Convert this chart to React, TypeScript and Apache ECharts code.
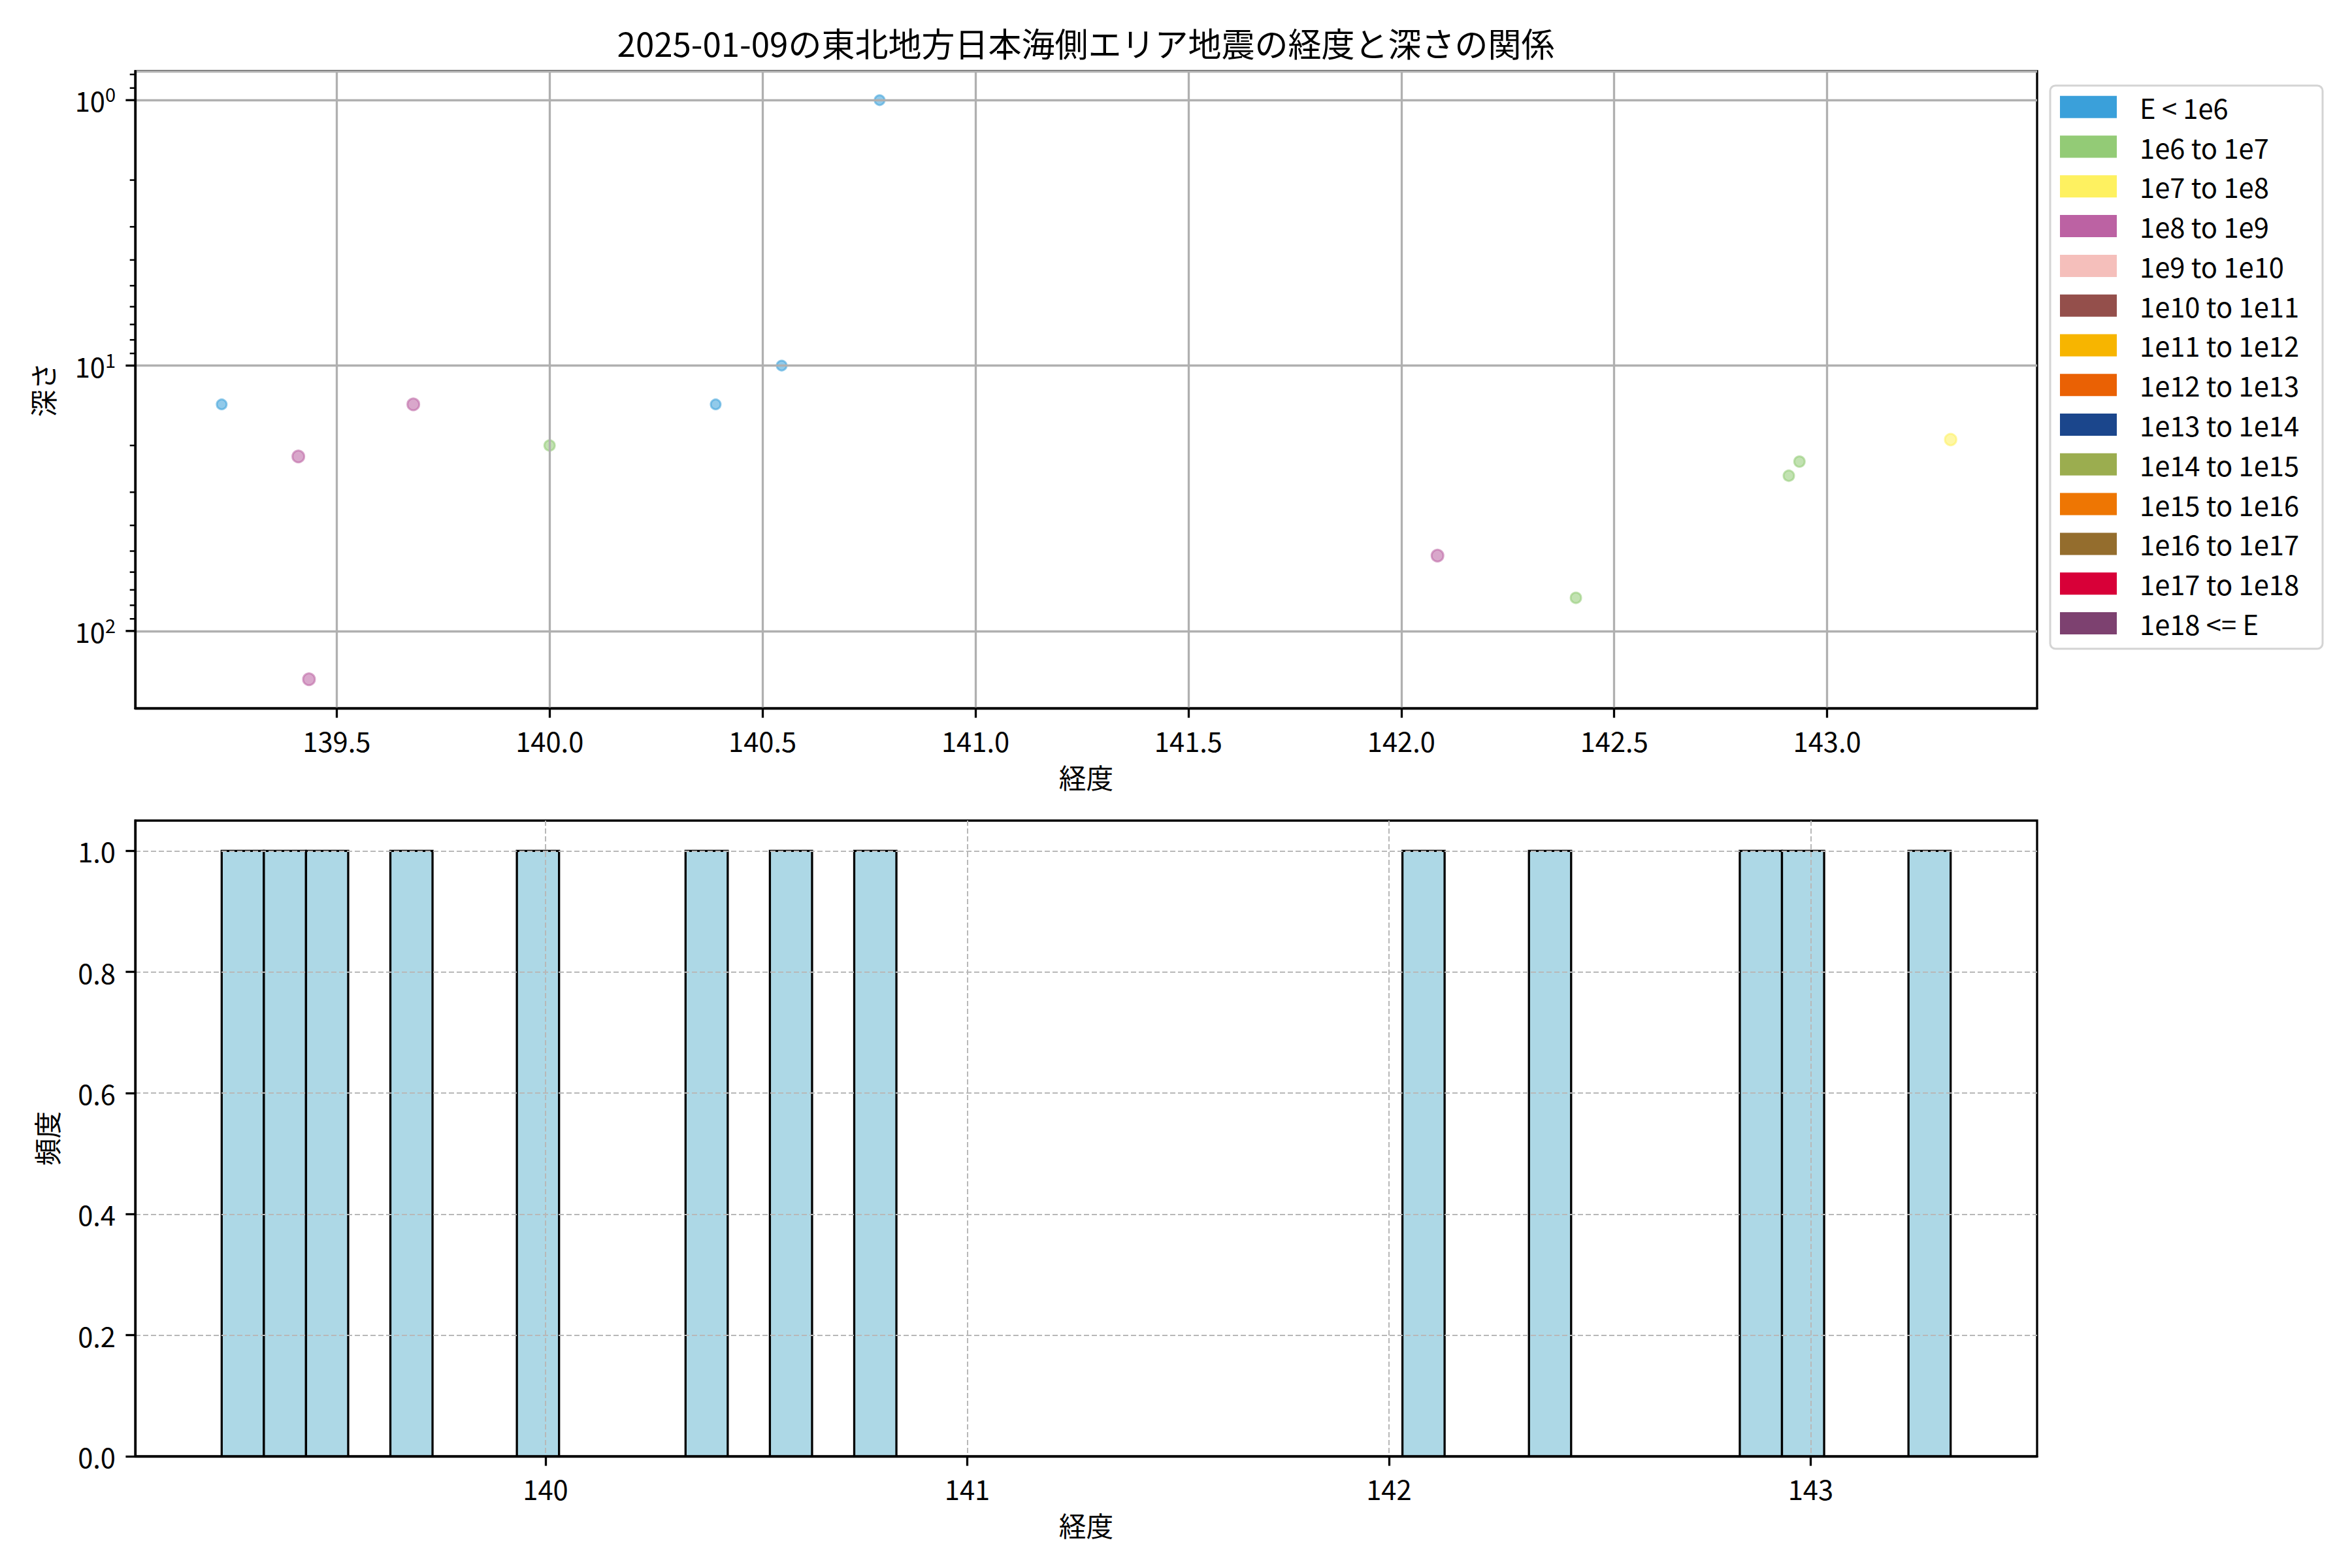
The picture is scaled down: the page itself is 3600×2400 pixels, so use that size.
import React, { useEffect, useRef } from 'react';
import * as echarts from 'echarts';

const TITLE = '2025-01-09の東北地方日本海側エリア地震の経度と深さの関係';
const X_NAME = '経度';
const Y_TOP_NAME = '深さ';
const Y_BOTTOM_NAME = '頻度';

const longitudes = [139.23, 139.41, 139.435, 139.68, 140.0, 140.39, 140.545, 140.775, 142.085, 142.41, 142.91, 142.935, 143.29];
const depths = [14, 22, 152, 14, 20, 14, 10, 1, 52, 75, 26, 23, 19];
const energyClassIndex = [0, 3, 3, 3, 1, 0, 0, 0, 3, 1, 1, 1, 2];

const energyClasses = [
  'E < 1e6', '1e6 to 1e7', '1e7 to 1e8', '1e8 to 1e9', '1e9 to 1e10', '1e10 to 1e11',
  '1e11 to 1e12', '1e12 to 1e13', '1e13 to 1e14', '1e14 to 1e15', '1e15 to 1e16',
  '1e16 to 1e17', '1e17 to 1e18', '1e18 <= E',
];
const classColors = [
  '#3aa0da', '#93cb76', '#fef160', '#bc62a3', '#f5bfbb', '#944f4b', '#f7b500',
  '#ea6104', '#1b468c', '#9bad4f', '#ee7603', '#946d2d', '#d80038', '#7d4170',
];
const classSymbolSize = [15, 16, 17.5, 18, 18, 18, 18, 18, 18, 18, 18, 18, 18, 18];

const topXTicks = [139.5, 140.0, 140.5, 141.0, 141.5, 142.0, 142.5, 143.0];
const bottomXTicks = [140, 141, 142, 143];
const freqTicks = [0, 0.2, 0.4, 0.6, 0.8, 1.0];
const depthMajorTicks = [1, 10, 100];
const depthMinorTicks = [0.8, 0.9, 2, 3, 4, 5, 6, 7, 8, 9, 20, 30, 40, 50, 60, 70, 80, 90];

const histStart = 139.232;
const binWidth = 0.1;

const FONT = "'Noto Sans CJK JP', 'Noto Sans', sans-serif";

function withAlpha(hex: string, a: number) {
  const r = parseInt(hex.slice(1, 3), 16);
  const g = parseInt(hex.slice(3, 5), 16);
  const b = parseInt(hex.slice(5, 7), 16);
  return `rgba(${r},${g},${b},${a})`;
}

export default function App() {
  const ref = useRef<HTMLDivElement>(null);

  useEffect(() => {
    if (!ref.current) return;
    const chart = echarts.init(ref.current, null, { renderer: 'svg' });

    const lonMin = Math.min(...longitudes);
    const lonMax = Math.max(...longitudes);
    const lonSpan = lonMax - lonMin;
    const topXMin = lonMin - 0.05 * lonSpan;
    const topXMax = lonMax + 0.05 * lonSpan;

    const logMin = Math.log10(Math.min(...depths));
    const logMax = Math.log10(Math.max(...depths));
    const logSpan = logMax - logMin;
    const yTopMin = Math.pow(10, logMin - 0.05 * logSpan);
    const yTopMax = Math.pow(10, logMax + 0.05 * logSpan);

    const nBins = Math.floor((lonMax - histStart) / binWidth) + 1;
    const counts = new Array(nBins).fill(0);
    longitudes.forEach((x) => {
      let i = Math.floor((x - histStart) / binWidth);
      if (i >= nBins) i = nBins - 1;
      if (i < 0) i = 0;
      counts[i] += 1;
    });
    const histData: number[][] = [];
    counts.forEach((c, i) => {
      if (c > 0) histData.push([histStart + i * binWidth, histStart + (i + 1) * binWidth, c]);
    });
    const histEnd = histStart + nBins * binWidth;
    const hSpan = histEnd - histStart;
    const botXMin = histStart - 0.05 * hSpan;
    const botXMax = histEnd + 0.05 * hSpan;
    const maxCount = Math.max(...counts);

    const scatterSeries = energyClasses.map((name, ci) => ({
      name,
      type: 'scatter',
      xAxisIndex: 0,
      yAxisIndex: 0,
      symbolSize: classSymbolSize[ci],
      itemStyle: {
        color: withAlpha(classColors[ci], 0.7),
        borderColor: withAlpha(classColors[ci], 0.7),
        borderWidth: 3,
      },
      data: longitudes
        .map((lon, i) => (energyClassIndex[i] === ci ? [lon, depths[i]] : null))
        .filter((d) => d !== null),
      z: 3,
    }));

    const tickData = [
      ...depthMajorTicks.map((v) => [topXMin, v, 1]),
      ...depthMinorTicks.map((v) => [topXMin, v, 0]),
    ];

    const option: any = {
      animation: false,
      backgroundColor: '#ffffff',
      textStyle: { fontFamily: FONT, color: '#000' },
      grid: [
        { left: 207, top: 109, width: 2911, height: 975, show: true, borderColor: '#000', borderWidth: 3.3, backgroundColor: 'transparent', containLabel: false },
        { left: 207, top: 1256, width: 2911, height: 973, show: true, borderColor: '#000', borderWidth: 3.3, backgroundColor: 'transparent', containLabel: false },
      ],
      graphic: [
        {
          type: 'text', x: 1662, y: 65, z: 100,
          style: { text: TITLE, fontSize: 51, fontFamily: FONT, fill: '#000', textAlign: 'center', textVerticalAlign: 'middle' },
        },
        {
          type: 'rect', shape: { x: 3138, y: 131, width: 417, height: 862, r: 8 },
          style: { fill: 'rgba(255,255,255,0.8)', stroke: '#d4d4d4', lineWidth: 3 }, z: 0,
        },
      ],
      legend: {
        orient: 'vertical',
        left: 3153,
        top: 142.9,
        itemWidth: 87,
        itemHeight: 34,
        itemGap: 19.1,
        icon: 'rect',
        selectedMode: false,
        padding: 0,
        textStyle: { fontSize: 41.7, fontFamily: FONT, color: '#000', padding: [0, 0, 0, 30] },
        data: energyClasses.map((name, ci) => ({
          name,
          itemStyle: { color: classColors[ci], opacity: 1, borderWidth: 0 },
        })),
        z: 5,
      },
      xAxis: [
        {
          type: 'value', gridIndex: 0, min: topXMin, max: topXMax, splitNumber: 9, z: 4,
          name: X_NAME, nameLocation: 'middle', nameGap: 84,
          nameTextStyle: { fontSize: 41.7, fontFamily: FONT, color: '#000' },
          axisLine: { show: true, lineStyle: { color: '#000', width: 3.3 } },
          axisTick: { show: true, customValues: topXTicks, length: 14.6, lineStyle: { color: '#000', width: 3.3 } },
          axisLabel: { customValues: topXTicks, formatter: (v: number) => v.toFixed(1), fontSize: 41.7, margin: 28, color: '#000', fontFamily: FONT },
          splitLine: { show: true, lineStyle: { color: '#b0b0b0', width: 3.3 } },
        },
        {
          type: 'value', gridIndex: 1, min: botXMin, max: botXMax, splitNumber: 5, z: 4,
          name: X_NAME, nameLocation: 'middle', nameGap: 84,
          nameTextStyle: { fontSize: 41.7, fontFamily: FONT, color: '#000' },
          axisLine: { show: true, lineStyle: { color: '#000', width: 3.3 } },
          axisTick: { show: true, customValues: bottomXTicks, length: 14.6, lineStyle: { color: '#000', width: 3.3 } },
          axisLabel: { customValues: bottomXTicks, formatter: (v: number) => String(Math.round(v)), fontSize: 41.7, margin: 28, color: '#000', fontFamily: FONT },
          splitLine: { show: true, lineStyle: { color: '#b8b8b8', width: 2, type: [8, 4] } },
        },
      ],
      yAxis: [
        {
          type: 'log', logBase: 10, gridIndex: 0, min: yTopMin, max: yTopMax, inverse: true, z: 4,
          name: Y_TOP_NAME, nameLocation: 'middle', nameGap: 121,
          nameTextStyle: { fontSize: 41.7, fontFamily: FONT, color: '#000' },
          axisLine: { show: true, lineStyle: { color: '#000', width: 3.3 } },
          axisTick: { show: false },
          axisLabel: {
            margin: 30,
            formatter: (v: number) => {
              const e = Math.log10(v);
              const r = Math.round(e);
              if (Math.abs(e - r) > 1e-6) return '';
              return `{b|10}{s|${r}}`;
            },
            rich: {
              b: { fontSize: 41.7, fontFamily: FONT, color: '#000' },
              s: { fontSize: 29, fontFamily: FONT, color: '#000', padding: [0, 0, 20, 0] },
            },
          },
          splitLine: { show: true, lineStyle: { color: '#b0b0b0', width: 3.3 } },
        },
        {
          type: 'value', gridIndex: 1, min: 0, max: maxCount * 1.05, splitNumber: 5, z: 4,
          name: Y_BOTTOM_NAME, nameLocation: 'middle', nameGap: 115,
          nameTextStyle: { fontSize: 41.7, fontFamily: FONT, color: '#000' },
          axisLine: { show: true, lineStyle: { color: '#000', width: 3.3 } },
          axisTick: { show: true, customValues: freqTicks, length: 14.6, lineStyle: { color: '#000', width: 3.3 } },
          axisLabel: { customValues: freqTicks, formatter: (v: number) => v.toFixed(1), fontSize: 41.7, margin: 30, color: '#000', fontFamily: FONT },
          splitLine: { show: true, lineStyle: { color: '#b8b8b8', width: 2, type: [8, 4] } },
        },
      ],
      series: [
        ...scatterSeries,
        {
          type: 'custom',
          name: 'depthTicks',
          xAxisIndex: 0,
          yAxisIndex: 0,
          silent: true,
          clip: false,
          z: 6,
          data: tickData,
          renderItem: (params: any, api: any) => {
            const p = api.coord([api.value(0), api.value(1)]);
            const major = api.value(2) === 1;
            const len = major ? 14.6 : 8.3;
            return {
              type: 'line',
              shape: { x1: p[0] - len, y1: p[1], x2: p[0], y2: p[1] },
              style: { stroke: '#000', lineWidth: major ? 3.3 : 2.5 },
            };
          },
        },
        {
          type: 'custom',
          name: 'histogram',
          xAxisIndex: 1,
          yAxisIndex: 1,
          silent: true,
          z: 2,
          encode: { x: [0, 1], y: 2 },
          data: histData,
          renderItem: (params: any, api: any) => {
            const a = api.coord([api.value(0), 0]);
            const b = api.coord([api.value(1), api.value(2)]);
            return {
              type: 'rect',
              shape: { x: a[0], y: b[1], width: b[0] - a[0], height: a[1] - b[1] },
              style: { fill: '#add8e6', stroke: '#000', lineWidth: 3.3 },
            };
          },
        },
      ],
    };

    chart.setOption(option);
    return () => chart.dispose();
  }, []);

  return (
    <div
      ref={ref}
      style={{ position: 'absolute', left: 0, top: 0, width: 3600, height: 2400, background: '#fff' }}
    />
  );
}
